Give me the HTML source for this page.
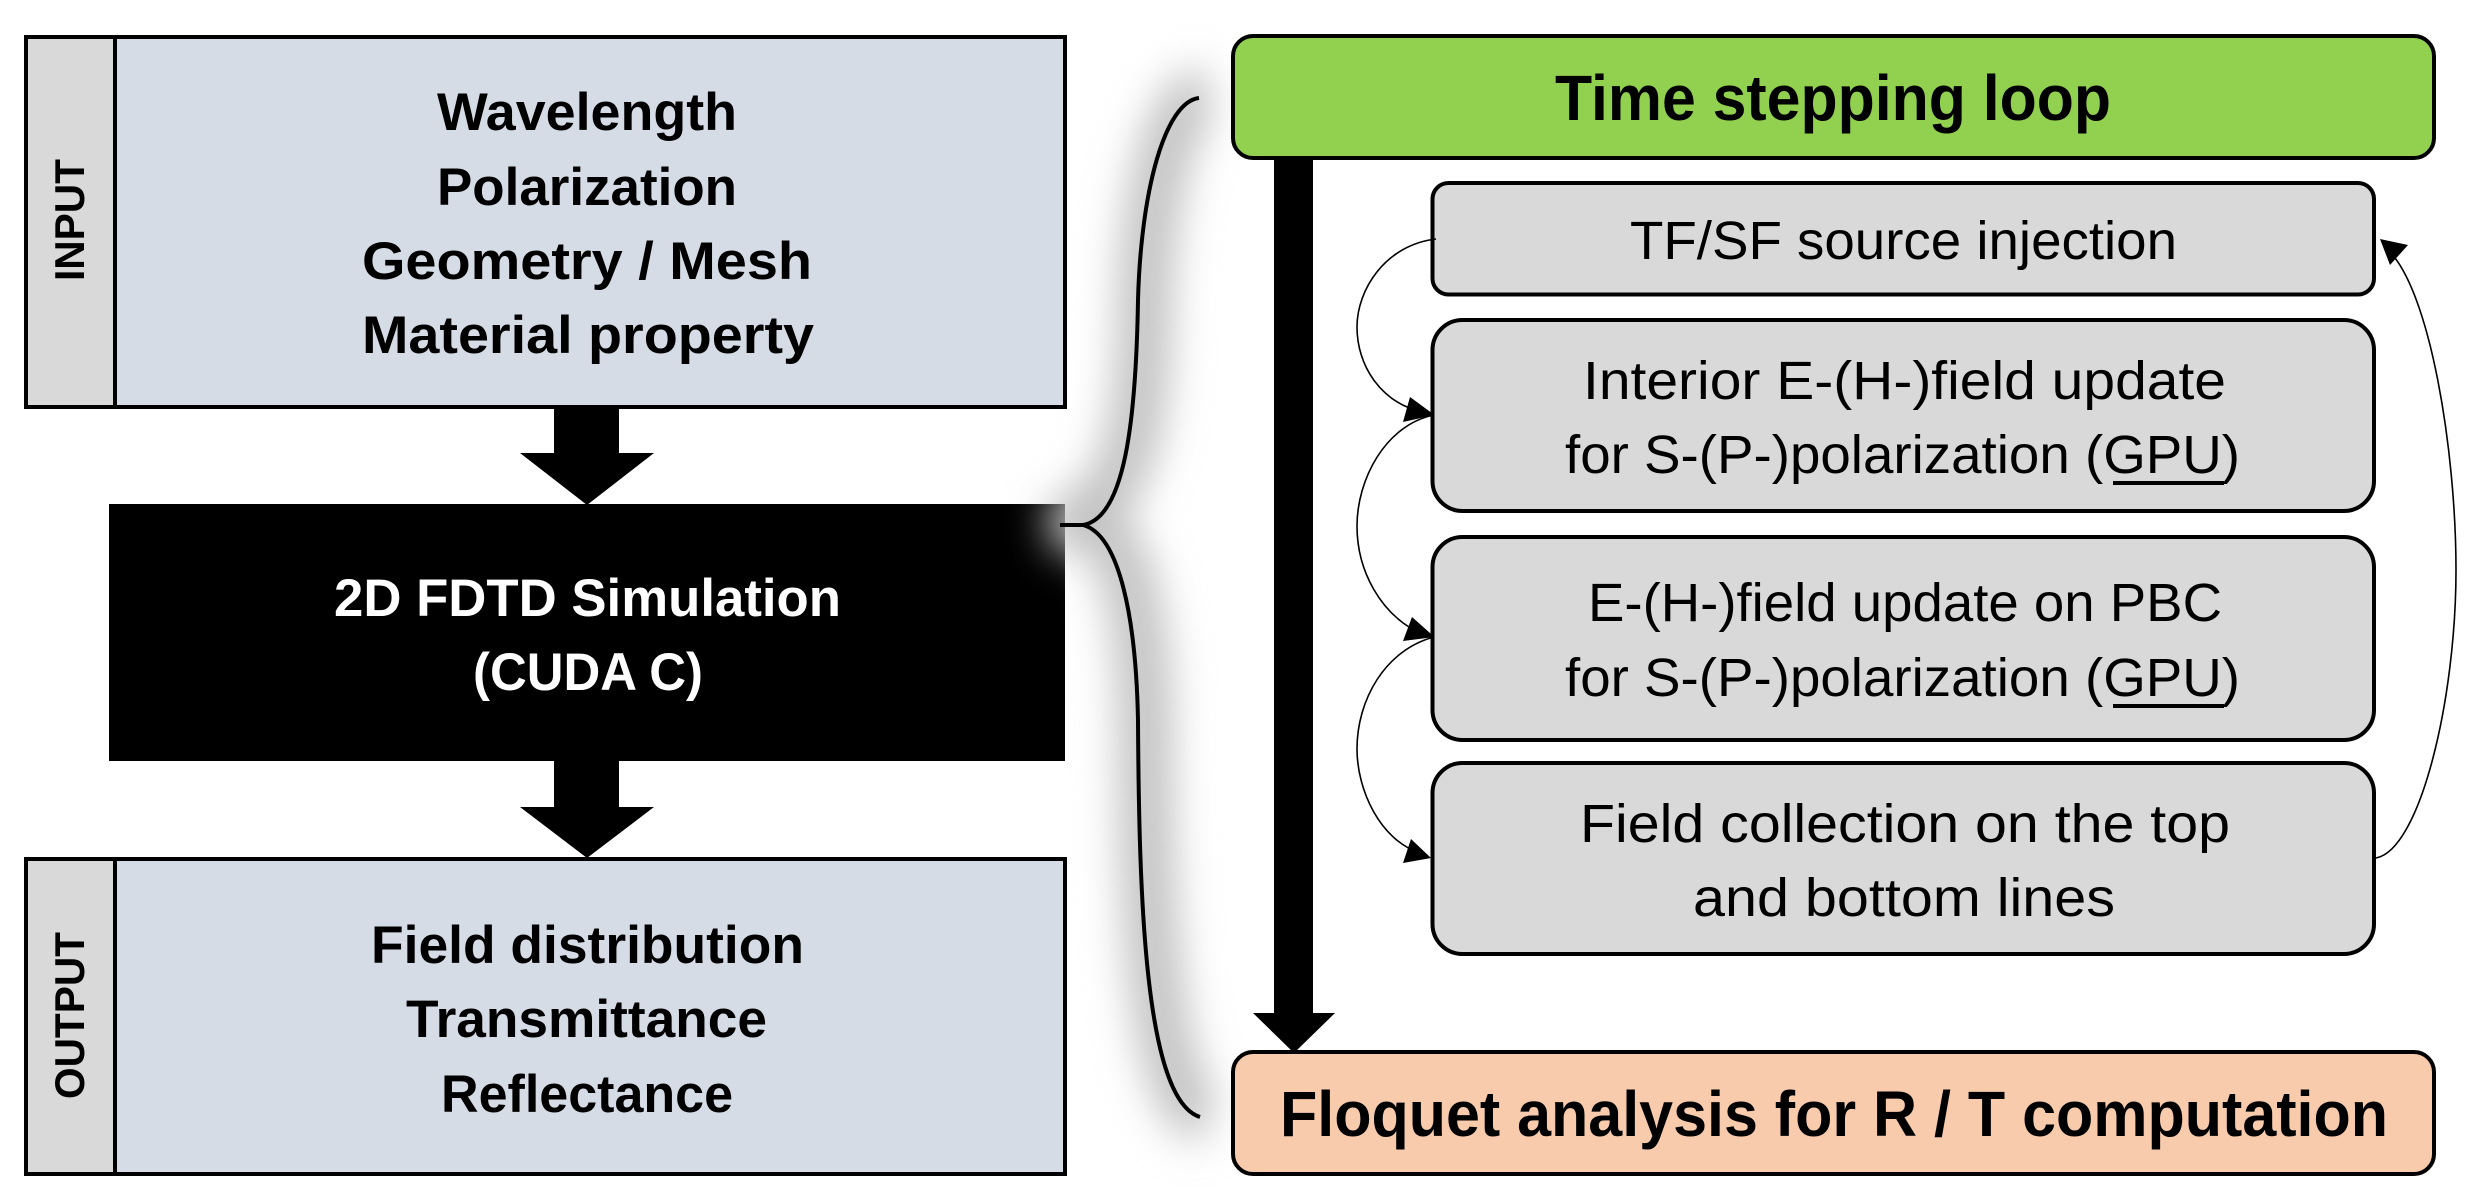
<!DOCTYPE html>
<html>
<head>
<meta charset="utf-8">
<style>
html,body{margin:0;padding:0;background:#fff;width:2484px;height:1200px;overflow:hidden}
svg{display:block}
text{font-family:"Liberation Sans",sans-serif}
.b{font-weight:700;font-size:53px;fill:#000}
.r{font-size:54px;fill:#000}
</style>
</head>
<body>
<svg width="2484" height="1200" viewBox="0 0 2484 1200" xmlns="http://www.w3.org/2000/svg">
<defs>
<filter id="blur" x="-60%" y="-20%" width="220%" height="140%"><feGaussianBlur stdDeviation="20"/></filter>
</defs>
<rect width="2484" height="1200" fill="#fff"/>

<!-- black box -->
<rect x="109" y="504" width="956" height="257" fill="#000"/>

<!-- brace shadow -->
<g filter="url(#blur)" fill="none" stroke="#c2c2c2" stroke-width="54">
<path d="M1208,92 C1172,98 1148,190 1145,300 C1143,420 1132,515 1050,528"/>
<path d="M1090,528 C1127,535 1143,620 1145,720 C1146,900 1152,1100 1208,1120"/>
</g>

<!-- input -->
<rect x="26" y="37" width="1039" height="370" fill="#D6DCE5" stroke="#000" stroke-width="4"/>
<rect x="26" y="37" width="89" height="370" fill="#D9D9D9" stroke="#000" stroke-width="4"/>
<!-- output -->
<rect x="26" y="859" width="1039" height="315" fill="#D6DCE5" stroke="#000" stroke-width="4"/>
<rect x="26" y="859" width="89" height="315" fill="#D9D9D9" stroke="#000" stroke-width="4"/>

<!-- big arrows -->
<polygon points="554,409 619,409 619,453 654,453 587,505 520,453 554,453" fill="#000"/>
<polygon points="554,761 619,761 619,807 654,807 587,858 520,807 554,807" fill="#000"/>
<polygon points="1274,160 1313,160 1313,1013 1335,1013 1294,1053 1253,1013 1274,1013" fill="#000"/>

<!-- brace -->
<g fill="none" stroke="#000" stroke-width="4">
<path d="M1199,98 C1165,102 1141,190 1138,300 C1136,420 1125,518 1083,525 L1060,525"/>
<path d="M1083,525 C1120,535 1136,620 1138,720 C1139,900 1145,1100 1200,1117"/>
</g>

<!-- right boxes -->
<rect x="1233" y="36" width="1201" height="122" rx="20" fill="#92D050" stroke="#000" stroke-width="4"/>
<rect x="1233" y="1052" width="1201" height="122" rx="20" fill="#F8CBAD" stroke="#000" stroke-width="4"/>
<polygon points="1284,1040 1303,1040 1294,1054" fill="#000"/>
<rect x="1432.5" y="183" width="941.5" height="111.5" rx="16" fill="#D9D9D9" stroke="#000" stroke-width="4"/>
<rect x="1432.5" y="320" width="941.5" height="191" rx="30" fill="#D9D9D9" stroke="#000" stroke-width="4"/>
<rect x="1432.5" y="537" width="941.5" height="203" rx="30" fill="#D9D9D9" stroke="#000" stroke-width="4"/>
<rect x="1432.5" y="763" width="941.5" height="191" rx="30" fill="#D9D9D9" stroke="#000" stroke-width="4"/>

<!-- thin connectors -->
<g fill="none" stroke="#000" stroke-width="1.6">
<path d="M1436,239 C1385,245 1357,290 1357,327 C1357,365 1380,402 1422,412"/>
<path d="M1434,415 C1385,425 1357,480 1357,526 C1357,570 1380,615 1422,634"/>
<path d="M1434,637 C1385,650 1357,700 1357,749 C1357,790 1380,840 1420,853"/>
<path d="M2376,858 C2420,850 2456,700 2456,570 C2456,450 2430,290 2388,250"/>
</g>
<g fill="#000">
<polygon points="1434.5,415 1410,397 1403,422"/>
<polygon points="1434.5,637 1412,617 1403,641"/>
<polygon points="1431,858 1411,839 1403,863"/>
<polygon points="2380,239 2408,245 2390,265"/>
</g>

<!-- rotated labels -->
<text class="b" style="font-size:42px" transform="translate(84,281) rotate(-90)" textLength="122" lengthAdjust="spacingAndGlyphs">INPUT</text>
<text class="b" style="font-size:42px" transform="translate(84,1099) rotate(-90)" textLength="167" lengthAdjust="spacingAndGlyphs">OUTPUT</text>

<!-- left text -->
<text class="b" x="437" y="130" textLength="300" lengthAdjust="spacingAndGlyphs">Wavelength</text>
<text class="b" x="437" y="205" textLength="300" lengthAdjust="spacingAndGlyphs">Polarization</text>
<text class="b" x="362" y="279" textLength="450" lengthAdjust="spacingAndGlyphs">Geometry / Mesh</text>
<text class="b" x="362" y="353" textLength="452" lengthAdjust="spacingAndGlyphs">Material property</text>
<text class="b" x="334" y="616" textLength="507" lengthAdjust="spacingAndGlyphs" style="fill:#fff">2D FDTD Simulation</text>
<text class="b" x="473" y="690" textLength="230" lengthAdjust="spacingAndGlyphs" style="fill:#fff">(CUDA C)</text>
<text class="b" x="371" y="963" textLength="433" lengthAdjust="spacingAndGlyphs">Field distribution</text>
<text class="b" x="406" y="1037" textLength="361" lengthAdjust="spacingAndGlyphs">Transmittance</text>
<text class="b" x="441" y="1112" textLength="292" lengthAdjust="spacingAndGlyphs">Reflectance</text>

<!-- right text -->
<text class="b" style="font-size:64px" x="1555" y="120" textLength="556" lengthAdjust="spacingAndGlyphs">Time stepping loop</text>
<text class="b" style="font-size:64px" x="1280" y="1136" textLength="1108" lengthAdjust="spacingAndGlyphs">Floquet analysis for R / T computation</text>

<text class="r" x="1630" y="259" textLength="547" lengthAdjust="spacingAndGlyphs">TF/SF source injection</text>
<text class="r" x="1583" y="399" textLength="643" lengthAdjust="spacingAndGlyphs">Interior E-(H-)field update</text>
<text class="r" x="1565" y="473" textLength="675" lengthAdjust="spacingAndGlyphs">for S-(P-)polarization (GPU)</text>
<rect x="2113" y="481" width="111" height="4" fill="#000"/>
<text class="r" x="1588" y="621" textLength="634" lengthAdjust="spacingAndGlyphs">E-(H-)field update on PBC</text>
<text class="r" x="1565" y="696" textLength="675" lengthAdjust="spacingAndGlyphs">for S-(P-)polarization (GPU)</text>
<rect x="2113" y="704" width="111" height="4" fill="#000"/>
<text class="r" x="1580" y="842" textLength="650" lengthAdjust="spacingAndGlyphs">Field collection on the top</text>
<text class="r" x="1693" y="916" textLength="422" lengthAdjust="spacingAndGlyphs">and bottom lines</text>
</svg>
</body>
</html>
